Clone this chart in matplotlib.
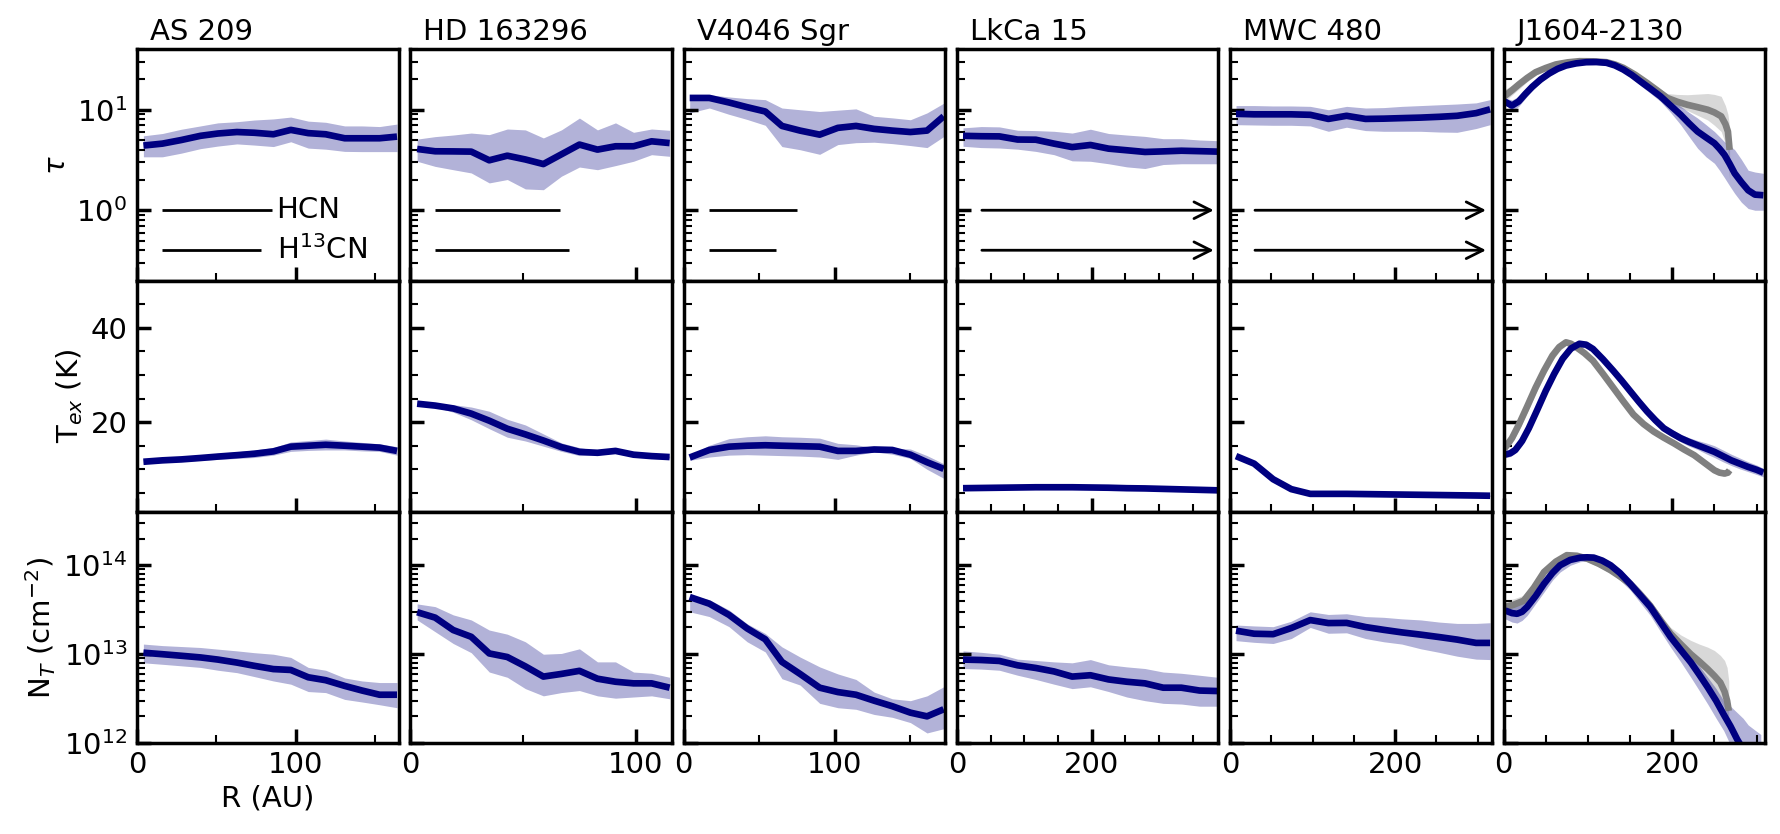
"""
HCN 辐射转移拟合结果：τ、T_ex、N_T 随半径的分布（六个原行星盘）。
"""
import matplotlib
matplotlib.use("Agg")
import matplotlib.pyplot as plt
import matplotlib.ticker as ticker
import numpy as np

NT_UNIT = 1e13  # N_T 数组以 1e13 cm^-2 为单位

# ─── AS 209 ─────────────────────────────────────────────
AS209_R = [4, 16, 28, 40, 51, 63, 74, 86, 97, 108, 119, 131, 142, 153, 164]
AS209_TAU = [4.4, 4.6, 5.0, 5.5, 5.8, 6.0, 5.9, 5.7, 6.3, 5.85, 5.7, 5.2, 5.2, 5.2, 5.4]
AS209_TAU_HI = [5.5, 5.8, 6.4, 6.9, 7.4, 7.6, 7.9, 8.1, 8.45, 7.7, 7.5, 6.9, 6.9, 6.8, 7.2]
AS209_TAU_LO = [3.4, 3.4, 3.7, 4.1, 4.35, 4.57, 4.45, 4.3, 4.8, 4.15, 4.05, 3.85, 3.83, 3.83, 3.83]
AS209_TEX = [11.6, 11.9, 12.1, 12.4, 12.7, 13.0, 13.3, 13.8, 14.8, 15.0, 15.2, 15.0, 14.8, 14.6, 13.9]
AS209_TEX_HI = [12.0, 12.3, 12.6, 13.0, 13.4, 13.7, 14.1, 14.6, 15.8, 16.1, 16.4, 16.0, 15.7, 15.4, 14.8]
AS209_TEX_LO = [11.2, 11.5, 11.7, 11.9, 12.1, 12.3, 12.5, 13.0, 13.8, 14.0, 14.1, 14.1, 13.9, 13.8, 13.0]
AS209_NT = [1.04, 1.00, 0.96, 0.92, 0.87, 0.805, 0.74, 0.68, 0.665, 0.55, 0.51, 0.44, 0.39, 0.35, 0.35]
AS209_NT_HI = [1.30, 1.25, 1.22, 1.19, 1.14, 1.09, 1.04, 1.00, 0.92, 0.71, 0.66, 0.54, 0.50, 0.48, 0.48]
AS209_NT_LO = [0.80, 0.77, 0.74, 0.71, 0.66, 0.62, 0.56, 0.50, 0.46, 0.38, 0.37, 0.31, 0.29, 0.27, 0.25]

# ─── HD 163296 ──────────────────────────────────────────
HD163_R = [3, 11, 19, 27, 35, 43, 51, 59, 67, 75, 83, 91, 99, 107, 115]
HD163_TAU = [4.07, 3.86, 3.85, 3.83, 3.14, 3.49, 3.2, 2.88, 3.6, 4.5, 4.01, 4.33, 4.33, 4.85, 4.66]
HD163_TAU_HI = [5.1, 5.4, 5.6, 5.86, 5.65, 6.43, 6.3, 5.24, 6.3, 8.26, 6.3, 7.4, 5.96, 6.43, 6.24]
HD163_TAU_LO = [3.07, 2.73, 2.53, 2.35, 1.87, 2.02, 1.63, 1.60, 2.18, 2.69, 2.53, 2.78, 3.07, 3.57, 3.44]
HD163_TEX = [23.9, 23.5, 22.9, 21.8, 20.3, 18.6, 17.4, 16.1, 14.7, 13.7, 13.5, 13.9, 13.1, 12.8, 12.6]
HD163_TEX_HI = [24.0, 23.8, 23.7, 23.2, 22.3, 20.6, 19.4, 17.5, 15.6, 14.6, 14.0, 14.2, 13.4, 13.0, 12.8]
HD163_TEX_LO = [23.8, 23.2, 22.1, 20.5, 18.6, 16.8, 16.0, 14.9, 13.8, 12.9, 13.0, 13.6, 12.8, 12.6, 12.4]
HD163_NT = [2.97, 2.58, 1.87, 1.57, 1.02, 0.93, 0.73, 0.56, 0.60, 0.65, 0.53, 0.49, 0.47, 0.47, 0.42]
HD163_NT_HI = [3.68, 3.43, 2.77, 2.43, 1.87, 1.68, 1.38, 1.00, 1.02, 1.15, 0.82, 0.82, 0.63, 0.61, 0.55]
HD163_NT_LO = [2.43, 1.79, 1.32, 1.04, 0.63, 0.55, 0.41, 0.34, 0.37, 0.39, 0.34, 0.32, 0.33, 0.34, 0.315]

# ─── V4046 Sgr ──────────────────────────────────────────
V4046_R = [4, 17, 30, 42, 54, 65, 77, 90, 102, 114, 126, 138, 150, 161, 172]
V4046_TAU = [13.1, 13.1, 11.8, 10.6, 9.6, 6.9, 6.2, 5.65, 6.6, 6.9, 6.45, 6.2, 6.0, 6.2, 8.6]
V4046_TAU_HI = [14.1, 14.1, 13.4, 12.9, 12.6, 10.4, 10.0, 9.6, 9.9, 10.2, 8.6, 8.3, 7.95, 9.3, 11.6]
V4046_TAU_LO = [9.3, 10.4, 9.0, 8.0, 7.0, 4.3, 4.0, 3.6, 4.5, 4.7, 4.75, 4.6, 4.4, 4.2, 5.4]
V4046_TEX = [12.5, 14.1, 14.8, 15.0, 15.1, 15.0, 14.9, 14.8, 13.9, 13.9, 14.2, 14.1, 13.1, 11.5, 10.1]
V4046_TEX_HI = [13.0, 15.1, 16.5, 16.9, 17.1, 16.9, 16.8, 16.6, 15.5, 15.2, 14.6, 14.5, 14.3, 12.9, 11.2]
V4046_TEX_LO = [11.9, 12.6, 13.0, 13.1, 13.0, 12.9, 12.8, 12.6, 12.1, 13.0, 13.7, 13.2, 12.3, 10.0, 8.1]
V4046_NT = [4.4, 3.7, 2.77, 1.95, 1.47, 0.82, 0.60, 0.42, 0.375, 0.35, 0.30, 0.26, 0.22, 0.20, 0.24]
V4046_NT_HI = [4.65, 4.1, 3.15, 2.2, 1.71, 1.21, 0.93, 0.72, 0.60, 0.52, 0.375, 0.315, 0.30, 0.34, 0.43]
V4046_NT_LO = [3.0, 2.65, 2.04, 1.38, 1.06, 0.53, 0.45, 0.28, 0.25, 0.24, 0.21, 0.195, 0.17, 0.13, 0.145]

# ─── LkCa 15 ────────────────────────────────────────────
LKCA_R = [9, 36, 63, 90, 117, 144, 171, 198, 225, 252, 279, 306, 333, 360, 387]
LKCA_TAU = [5.5, 5.45, 5.43, 5.05, 5.03, 4.6, 4.25, 4.46, 4.1, 3.95, 3.8, 3.85, 3.91, 3.87, 3.83]
LKCA_TAU_HI = [6.6, 6.8, 6.75, 6.25, 6.2, 6.1, 5.86, 6.4, 5.8, 5.6, 5.43, 5.15, 5.15, 5.0, 4.92]
LKCA_TAU_LO = [4.33, 4.2, 4.16, 4.05, 3.85, 3.57, 3.1, 3.07, 2.9, 2.7, 2.6, 2.85, 2.9, 2.9, 2.9]
LKCA_TEX = [6.0, 6.05, 6.1, 6.15, 6.2, 6.2, 6.2, 6.15, 6.1, 6.0, 5.95, 5.85, 5.75, 5.65, 5.55]
LKCA_TEX_HI = [6.15, 6.2, 6.25, 6.3, 6.35, 6.35, 6.35, 6.3, 6.25, 6.15, 6.1, 6.0, 5.9, 5.8, 5.7]
LKCA_TEX_LO = [5.85, 5.9, 5.95, 6.0, 6.05, 6.05, 6.05, 6.0, 5.95, 5.85, 5.8, 5.7, 5.6, 5.5, 5.4]
LKCA_NT = [0.87, 0.86, 0.84, 0.75, 0.70, 0.64, 0.56, 0.58, 0.52, 0.49, 0.47, 0.42, 0.42, 0.39, 0.385]
LKCA_NT_HI = [1.09, 1.05, 1.0, 0.88, 0.85, 0.82, 0.80, 0.87, 0.76, 0.72, 0.69, 0.63, 0.61, 0.58, 0.55]
LKCA_NT_LO = [0.69, 0.68, 0.66, 0.58, 0.52, 0.46, 0.41, 0.43, 0.38, 0.33, 0.30, 0.28, 0.275, 0.26, 0.26]

# ─── MWC 480 ────────────────────────────────────────────
MWC_R = [7, 29, 52, 74, 97, 119, 141, 164, 186, 208, 231, 253, 275, 298, 315]
MWC_TAU = [9.1, 9.0, 9.0, 9.0, 8.9, 8.1, 8.7, 8.1, 8.15, 8.25, 8.35, 8.5, 8.7, 9.25, 10.1]
MWC_TAU_HI = [11.0, 11.0, 10.9, 10.9, 10.8, 10.0, 10.8, 10.4, 10.5, 10.8, 11.0, 11.2, 11.4, 11.7, 12.6]
MWC_TAU_LO = [7.1, 7.05, 7.0, 7.0, 6.9, 6.1, 6.7, 6.2, 6.1, 6.1, 6.1, 6.0, 5.96, 6.5, 7.1]
MWC_TEX = [12.8, 11.2, 7.9, 5.8, 4.8, 4.8, 4.8, 4.75, 4.7, 4.65, 4.6, 4.55, 4.5, 4.45, 4.4]
MWC_TEX_HI = [13.0, 11.4, 8.1, 6.0, 4.95, 4.95, 4.95, 4.9, 4.85, 4.8, 4.75, 4.7, 4.65, 4.6, 4.55]
MWC_TEX_LO = [12.6, 11.0, 7.7, 5.6, 4.65, 4.65, 4.65, 4.6, 4.55, 4.5, 4.45, 4.4, 4.35, 4.3, 4.25]
MWC_NT = [1.84, 1.70, 1.68, 1.97, 2.42, 2.24, 2.25, 2.02, 1.88, 1.76, 1.66, 1.56, 1.46, 1.34, 1.34]
MWC_NT_HI = [2.13, 2.08, 2.04, 2.35, 3.0, 2.8, 2.85, 2.65, 2.6, 2.5, 2.43, 2.3, 2.22, 2.22, 2.26]
MWC_NT_LO = [1.42, 1.36, 1.32, 1.5, 2.0, 1.72, 1.74, 1.5, 1.38, 1.3, 1.15, 1.05, 0.95, 0.88, 0.87]

# ─── J1604-2130（蓝色 + 灰色两组拟合）────────────────────
J1604_R_TAU = [1, 10, 18, 26, 34, 44, 54, 64, 74, 86, 98, 110, 122, 132, 142, 152, 162, 174, 186,
               198, 210, 220, 230, 240, 250, 256, 262, 268, 274, 282, 290, 298, 308]
J1604_TAU = [12.1, 11.0, 12.1, 14.4, 16.9, 20.0, 22.9, 25.5, 27.5, 28.9, 29.7, 29.8, 29.3, 27.6, 25.1,
             22.2, 19.2, 16.2, 13.6, 11.0, 8.9, 7.3, 6.07, 5.3, 4.64, 4.1, 3.55, 2.9, 2.33, 1.9, 1.58,
             1.43, 1.41]
J1604_TAU_HI = [13.1, 12.5, 13.6, 15.7, 18.0, 21.2, 24.2, 26.6, 28.5, 29.9, 30.7, 30.8, 30.3, 28.7,
                26.5, 23.7, 20.8, 17.9, 15.2, 12.8, 10.8, 9.4, 8.26, 7.1, 6.07, 5.4, 4.8, 4.4, 4.0,
                3.2, 2.5, 2.4, 2.33]
J1604_TAU_LO = [11.6, 9.6, 10.8, 13.0, 15.5, 18.6, 21.5, 24.2, 26.3, 27.8, 28.7, 28.8, 28.3, 26.3,
                23.8, 20.6, 17.5, 14.6, 12.1, 9.4, 7.08, 5.4, 4.14, 3.4, 2.93, 2.5, 2.1, 1.75, 1.47,
                1.2, 1.04, 1.0, 1.0]
J1604_R_TEX = [1, 8, 14, 22, 30, 40, 50, 60, 70, 80, 90, 98, 106, 118, 130, 140, 150, 160, 170, 180,
               190, 200, 210, 220, 230, 240, 250, 260, 270, 280, 290, 300, 308]
J1604_TEX = [13.1, 13.4, 14.1, 16.0, 18.7, 22.6, 26.6, 30.2, 33.4, 35.6, 36.6, 36.4, 35.5, 33.3, 30.9,
             28.8, 26.6, 24.4, 22.3, 20.4, 18.7, 17.6, 16.6, 15.8, 15.1, 14.4, 13.7, 12.8, 11.9,
             11.2, 10.5, 9.9, 9.3]
J1604_TEX_HI = [13.8, 14.1, 14.9, 16.9, 19.6, 23.5, 27.5, 31.1, 34.2, 36.3, 37.2, 37.1, 36.2, 34.0,
                31.6, 29.5, 27.3, 25.1, 23.0, 21.1, 19.4, 18.4, 17.4, 16.7, 16.1, 15.6, 15.0, 14.1,
                13.2, 12.4, 11.6, 10.9, 10.2]
J1604_TEX_LO = [12.4, 12.7, 13.4, 15.1, 17.8, 21.7, 25.7, 29.3, 32.6, 34.9, 35.9, 35.7, 34.8, 32.6,
                30.2, 28.1, 25.9, 23.7, 21.6, 19.7, 18.0, 16.9, 15.8, 14.9, 14.2, 13.3, 12.5, 11.6,
                10.8, 10.1, 9.5, 8.9, 8.4]
J1604_R_NT = [2, 10, 16, 22, 28, 38, 48, 58, 67, 79, 91, 99, 107, 117, 127, 138, 150, 162, 174, 186,
              198, 210, 222, 232, 242, 252, 261, 269, 277, 284, 290, 298, 305]
J1604_NT = [3.1, 2.9, 2.85, 3.0, 3.4, 4.5, 6.2, 8.2, 10.0, 11.5, 12.2, 12.3, 12.2, 11.3, 10.0, 8.2, 6.2,
            4.6, 3.4, 2.3, 1.56, 1.12, 0.81, 0.59, 0.425, 0.30, 0.21, 0.155, 0.11, 0.085, 0.066,
            0.048, 0.035]
J1604_NT_HI = [3.7, 3.75, 3.8, 3.85, 4.0, 5.3, 7.1, 9.2, 11.0, 12.6, 13.3, 13.4, 13.3, 12.3, 11.0,
               9.1, 7.1, 5.4, 4.0, 2.8, 1.85, 1.36, 1.0, 0.74, 0.55, 0.41, 0.30, 0.26, 0.22, 0.19,
               0.16, 0.14, 0.125]
J1604_NT_LO = [2.5, 2.3, 2.24, 2.4, 2.73, 3.7, 5.0, 6.8, 8.4, 10.0, 11.0, 11.1, 11.0, 9.8, 8.4, 6.8,
               5.3, 3.8, 2.73, 1.8, 1.2, 0.82, 0.55, 0.39, 0.275, 0.19, 0.138, 0.095, 0.07, 0.05,
               0.035, 0.027, 0.02]

J1604_G_R_TAU = [1, 10, 18, 28, 38, 50, 62, 76, 90, 106, 122, 132, 142, 156, 170, 182, 194, 206, 218,
                 230, 242, 250, 258, 263, 266, 268]
J1604_G_TAU = [13.6, 15.6, 17.8, 20.7, 23.6, 26.0, 28.2, 29.6, 30.4, 30.3, 29.7, 28.2, 26.1, 22.3,
               18.5, 15.6, 13.1, 12.0, 11.2, 10.6, 10.0, 9.4, 8.6, 7.2, 6.07, 3.98]
J1604_G_TAU_HI = [15.8, 17.5, 19.5, 22.2, 25.0, 27.3, 29.5, 30.8, 31.5, 31.4, 30.8, 29.4, 27.5, 23.8,
                  20.0, 17.0, 14.5, 14.2, 14.1, 14.3, 14.5, 14.2, 13.6, 11.0, 9.0, 6.8]
J1604_G_TAU_LO = [12.0, 14.0, 16.0, 19.0, 22.0, 24.6, 27.0, 28.4, 29.3, 29.2, 28.5, 26.9, 24.8, 20.9,
                  17.0, 14.3, 11.8, 10.7, 9.8, 8.8, 7.9, 7.0, 6.07, 4.6, 3.7, 2.0]
J1604_G_R_TEX = [1, 10, 18, 28, 38, 48, 58, 66, 74, 80, 86, 96, 106, 118, 130, 142, 154, 166, 178, 190,
                 202, 214, 226, 238, 250, 256, 262, 266, 268]
J1604_G_TEX = [14.4, 16.6, 19.4, 23.3, 27.3, 30.9, 34.1, 35.9, 36.9, 36.6, 35.9, 34.6, 33.0, 30.2,
               27.3, 24.4, 21.6, 19.6, 18.0, 16.7, 15.5, 14.2, 13.0, 11.4, 9.8, 9.3, 9.1, 9.3, 9.8]
J1604_G_TEX_HI = [15.4, 17.7, 20.6, 24.6, 28.6, 32.1, 35.2, 36.8, 37.5, 37.2, 36.4, 35.1, 33.6, 30.8,
                  27.9, 25.0, 22.2, 20.1, 18.5, 17.2, 16.0, 14.7, 13.5, 11.9, 10.3, 9.8, 9.6, 9.8,
                  10.3]
J1604_G_TEX_LO = [13.4, 15.5, 18.2, 22.0, 26.0, 29.7, 33.0, 35.0, 36.3, 36.0, 35.4, 34.1, 32.4, 29.6,
                  26.7, 23.8, 21.0, 19.1, 17.5, 16.2, 15.0, 13.7, 12.5, 10.9, 9.3, 8.8, 8.6, 8.8, 9.3]
J1604_G_R_NT = [2, 12, 24, 36, 48, 62, 75, 87, 99, 113, 127, 138, 150, 162, 174, 186, 198, 210, 222,
                232, 242, 250, 257, 262, 265, 267]
J1604_G_NT = [3.4, 3.6, 4.0, 5.6, 8.4, 11.0, 13.0, 12.8, 11.9, 10.4, 8.8, 7.5, 6.2, 4.7, 3.5, 2.4, 1.7,
              1.3, 1.0, 0.83, 0.68, 0.57, 0.48, 0.38, 0.30, 0.23]
J1604_G_NT_HI = [4.0, 4.2, 4.6, 6.5, 9.4, 12.0, 14.0, 13.8, 12.8, 11.2, 9.5, 8.1, 6.8, 5.2, 3.9, 2.8,
                 2.0, 1.65, 1.43, 1.3, 1.2, 1.1, 0.97, 0.85, 0.71, 0.5]
J1604_G_NT_LO = [2.9, 3.1, 3.4, 4.9, 7.5, 10.0, 12.0, 11.8, 11.0, 9.6, 8.1, 6.9, 5.6, 4.2, 3.1, 2.0,
                 1.4, 1.0, 0.7, 0.53, 0.40, 0.35, 0.30, 0.25, 0.21, 0.20]

# ─── 面板设置 ───────────────────────────────────────────
SOURCES = ["AS 209", "HD 163296", "V4046 Sgr", "LkCa 15", "MWC 480", "J1604-2130"]
X_MAX = [165, 116, 173, 388, 317, 310]
X_MAJOR = [100, 100, 100, 200, 200, 200]

# 拟合所用的径向范围（HCN / H13CN），箭头表示延伸到盘外
HCN_RANGE = [(16, 85), (11, 66.5), (17, 75), (37, 381), (30, 310), None]
H13CN_RANGE = [(16, 78), (11, 70.5), (17, 61), (37, 381), (30, 310), None]
RANGE_ARROW = [False, False, False, True, True, False]

BLUE = "#000080"
GREY = "#808080"
FS = 21


def _band(ax, r, y, lo, hi, color, scale=1.0):
    r = np.asarray(r)
    ax.fill_between(r, np.asarray(lo) * scale, np.asarray(hi) * scale,
                    color=color, alpha=0.3, lw=0)
    ax.plot(r, np.asarray(y) * scale, color=color, lw=4.8, solid_capstyle="butt")


plt.rcParams.update({
    "font.family": "DejaVu Sans",
    "mathtext.fontset": "dejavusans",
    "axes.linewidth": 2.5,
})

fig, axes = plt.subplots(3, 6, figsize=(17.8, 8.34), dpi=100,
                         sharex="col", sharey="row")
fig.subplots_adjust(left=0.077, right=0.9916, top=0.941, bottom=0.109,
                    wspace=0.045, hspace=0)

panels = [
    (AS209_R, AS209_TAU, AS209_TAU_LO, AS209_TAU_HI, AS209_TEX, AS209_TEX_LO, AS209_TEX_HI,
     AS209_NT, AS209_NT_LO, AS209_NT_HI),
    (HD163_R, HD163_TAU, HD163_TAU_LO, HD163_TAU_HI, HD163_TEX, HD163_TEX_LO, HD163_TEX_HI,
     HD163_NT, HD163_NT_LO, HD163_NT_HI),
    (V4046_R, V4046_TAU, V4046_TAU_LO, V4046_TAU_HI, V4046_TEX, V4046_TEX_LO, V4046_TEX_HI,
     V4046_NT, V4046_NT_LO, V4046_NT_HI),
    (LKCA_R, LKCA_TAU, LKCA_TAU_LO, LKCA_TAU_HI, LKCA_TEX, LKCA_TEX_LO, LKCA_TEX_HI,
     LKCA_NT, LKCA_NT_LO, LKCA_NT_HI),
    (MWC_R, MWC_TAU, MWC_TAU_LO, MWC_TAU_HI, MWC_TEX, MWC_TEX_LO, MWC_TEX_HI,
     MWC_NT, MWC_NT_LO, MWC_NT_HI),
]

for j, p in enumerate(panels):
    r, tau, tlo, thi, tex, elo, ehi, nt, nlo, nhi = p
    _band(axes[0, j], r, tau, tlo, thi, BLUE)
    _band(axes[1, j], r, tex, elo, ehi, BLUE)
    _band(axes[2, j], r, nt, nlo, nhi, BLUE, NT_UNIT)

# J1604-2130：先画灰色，再画蓝色
_band(axes[0, 5], J1604_G_R_TAU, J1604_G_TAU, J1604_G_TAU_LO, J1604_G_TAU_HI, GREY)
_band(axes[1, 5], J1604_G_R_TEX, J1604_G_TEX, J1604_G_TEX_LO, J1604_G_TEX_HI, GREY)
_band(axes[2, 5], J1604_G_R_NT, J1604_G_NT, J1604_G_NT_LO, J1604_G_NT_HI, GREY, NT_UNIT)
_band(axes[0, 5], J1604_R_TAU, J1604_TAU, J1604_TAU_LO, J1604_TAU_HI, BLUE)
_band(axes[1, 5], J1604_R_TEX, J1604_TEX, J1604_TEX_LO, J1604_TEX_HI, BLUE)
_band(axes[2, 5], J1604_R_NT, J1604_NT, J1604_NT_LO, J1604_NT_HI, BLUE, NT_UNIT)

# 径向范围线
for j in range(6):
    ax = axes[0, j]
    for rng, yv in ((HCN_RANGE[j], 1.0), (H13CN_RANGE[j], 0.4)):
        if rng is None:
            continue
        if RANGE_ARROW[j]:
            ax.annotate("", xy=(rng[1], yv), xytext=(rng[0], yv),
                        arrowprops=dict(arrowstyle="->", lw=2, color="k",
                                        mutation_scale=30, shrinkA=0, shrinkB=0))
        else:
            ax.plot(rng, [yv, yv], color="k", lw=2, solid_capstyle="butt")

axes[0, 0].text(88, 1.0, "HCN", fontsize=FS, ha="left", va="center")
axes[0, 0].text(88, 0.4, "H$^{13}$CN", fontsize=FS, ha="left", va="center")

# 坐标轴
axes[0, 0].set_yscale("log")
axes[0, 0].set_ylim(0.2, 40)
axes[1, 0].set_ylim(1, 50)
axes[1, 0].yaxis.set_major_locator(ticker.MultipleLocator(20))
axes[1, 0].yaxis.set_minor_locator(ticker.MultipleLocator(5))
axes[2, 0].set_yscale("log")
axes[2, 0].set_ylim(1e12, 4e14)

axes[0, 0].set_ylabel(r"$\tau$", fontsize=FS)
axes[1, 0].set_ylabel(r"T$_{ex}$ (K)", fontsize=FS)
axes[2, 0].set_ylabel(r"N$_T$ (cm$^{-2}$)", fontsize=FS)
axes[2, 0].set_xlabel("R (AU)", fontsize=FS)

for j in range(6):
    axes[0, j].set_xlim(0, X_MAX[j])
    axes[0, j].xaxis.set_major_locator(ticker.MultipleLocator(X_MAJOR[j]))
    axes[0, j].xaxis.set_minor_locator(ticker.MultipleLocator(50))
    axes[0, j].text(0.05, 1.015, SOURCES[j], transform=axes[0, j].transAxes,
                    fontsize=FS, ha="left", va="bottom")
    for i in range(3):
        ax = axes[i, j]
        ax.tick_params(which="major", direction="in", length=10, width=2.5,
                       labelsize=FS, pad=7)
        ax.tick_params(which="minor", direction="in", length=6, width=1.5)
        ax.tick_params(axis="x", which="major", pad=6)

fig.savefig("out.png", dpi=100)
